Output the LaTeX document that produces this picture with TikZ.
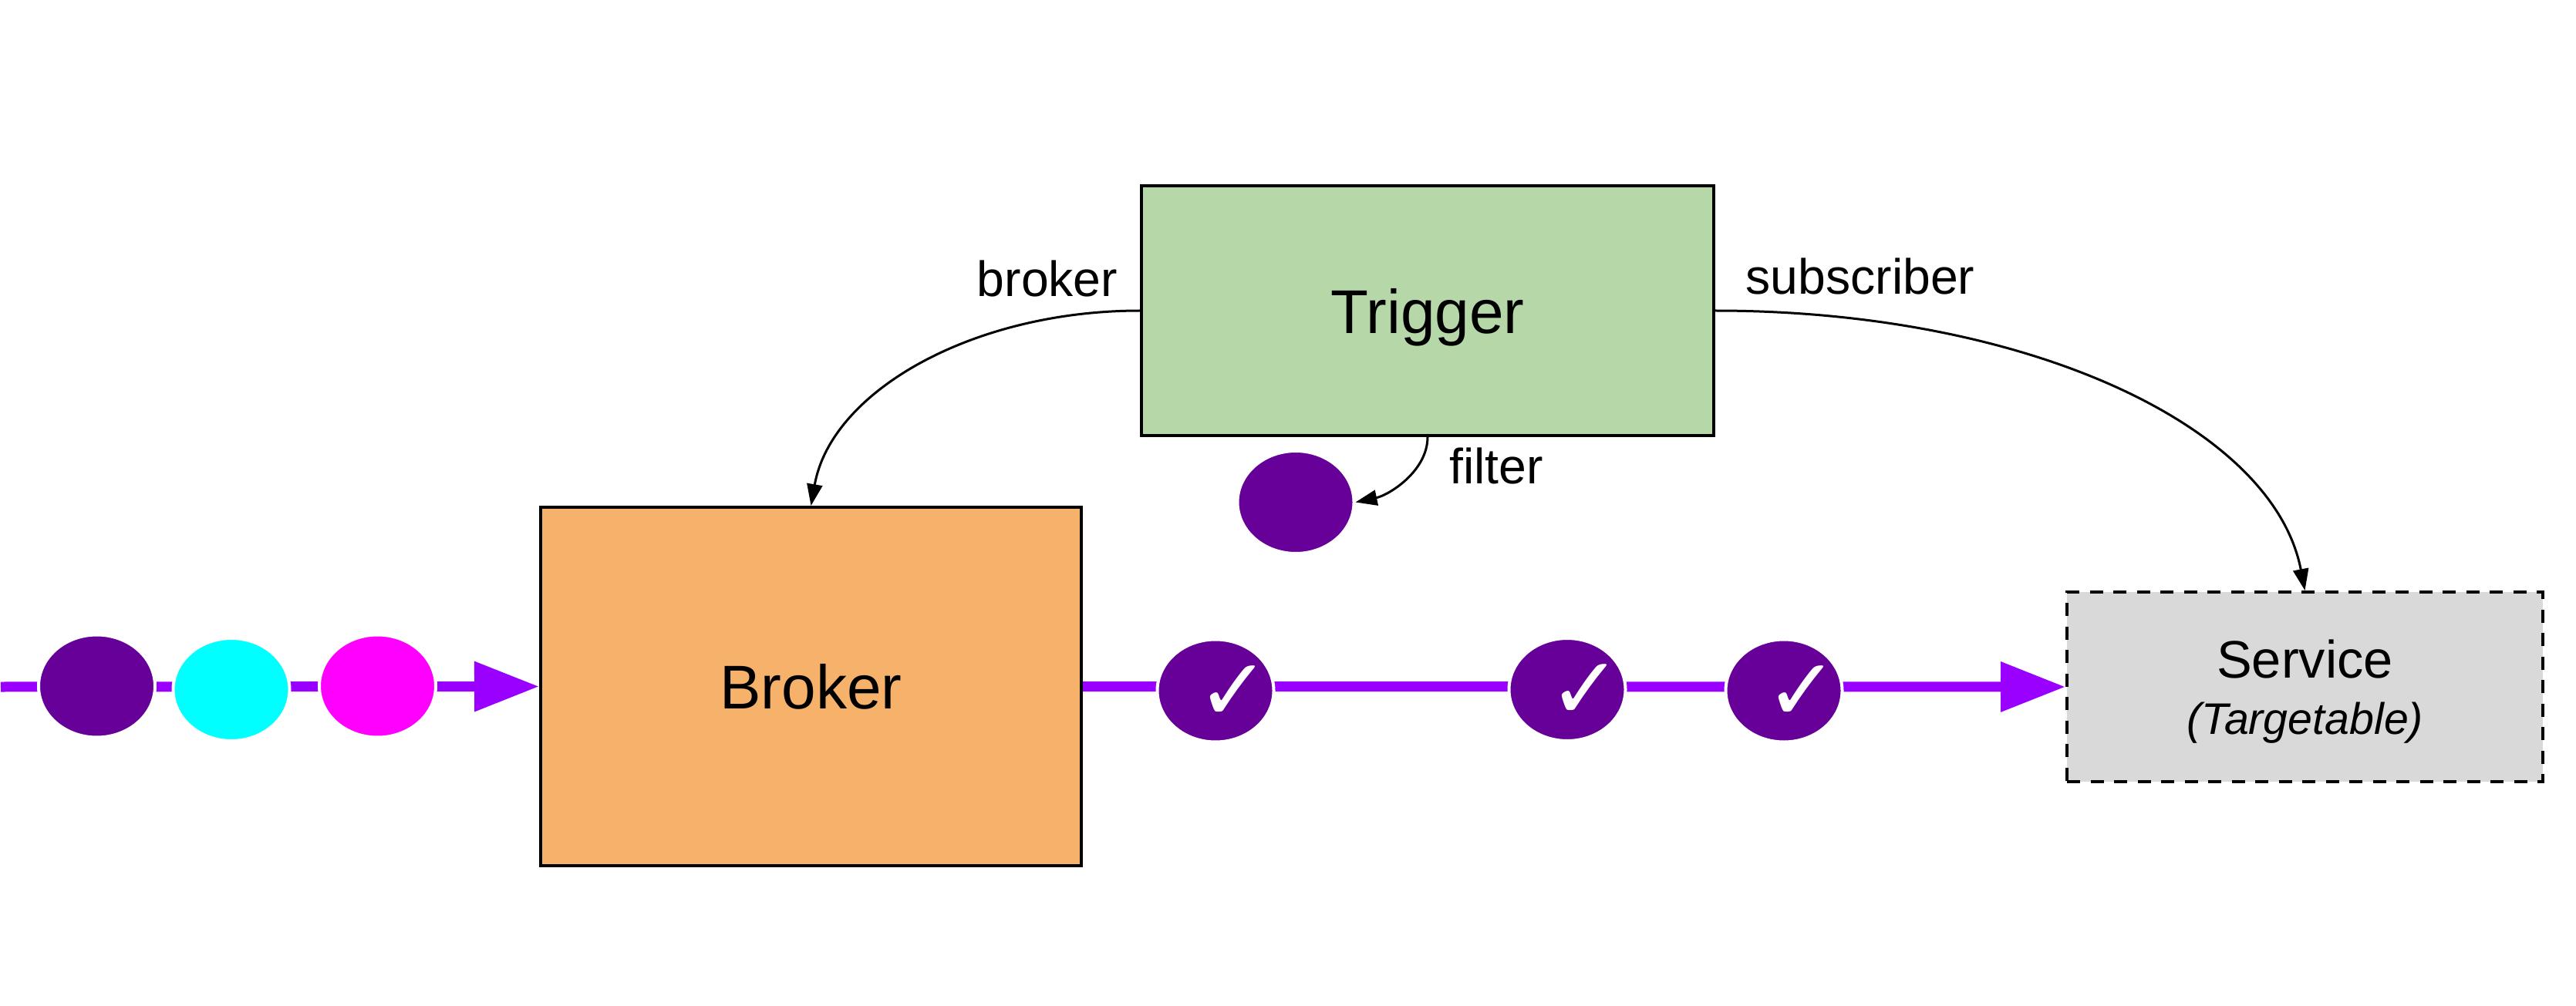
\documentclass[tikz,border=0pt]{standalone}
\usepackage{fontspec}
\setmainfont{Liberation Sans}
\newfontfamily\symfont{DejaVu Sans}
\usetikzlibrary{arrows.meta,shapes.geometric,positioning}
\definecolor{eventpurple}{rgb}{0.40, 0.0, 0.60}
\definecolor{eventcyan}{rgb}{0.0, 1.0, 1.0}
\definecolor{eventmagenta}{rgb}{1.0, 0.0, 1.0}
\definecolor{linepurple}{rgb}{0.60, 0.0, 1.0}
\definecolor{brokerorange}{rgb}{0.965, 0.698, 0.42}
\definecolor{triggergreen}{rgb}{0.714, 0.843, 0.659}
\definecolor{servicegray}{rgb}{0.851, 0.851, 0.851}
\tikzstyle{box} = [rectangle, draw=black, line width=0.04cm, text depth=0pt, align=center, font=\fontsize{22.8}{27}\selectfont]
\tikzstyle{ball} = [ellipse, draw=white, line width=0.04cm, inner sep=0pt, minimum width=1.51cm, minimum height=1.33cm]
\tikzstyle{tick} = [text=white, inner sep=0pt, font=\symfont\fontsize{32}{34}\selectfont]
\tikzstyle{word} = [anchor=base, inner sep=0pt, font=\fontsize{18.3}{22}\selectfont]
\tikzstyle{arrow} = [line width=0.03cm, -{Triangle[length=0.28cm,width=0.2cm]}]
\tikzstyle{flow} = [line width=0.13cm, linepurple, -{Triangle[length=0.84cm,width=0.62cm]}]
\begin{document}
\begin{tikzpicture}
\useasboundingbox (0,0) rectangle (33.4,13.04);
\node (broker) at (10.515,4.135) [box, fill=brokerorange, minimum width=7.01cm, minimum height=4.65cm] {Broker};
\node (trigger) at (18.51,9.01) [box, fill=triggergreen, minimum width=7.42cm, minimum height=3.235cm] {Trigger};
\node (service) at (29.885,4.13) [box, fill=servicegray, dash pattern=on 0.17cm off 0.135cm, minimum width=6.17cm, minimum height=2.46cm, text depth=-0.08cm, font=\fontsize{19.5}{20.6}\selectfont] {Service\\{\fontsize{16.3}{20}\selectfont\itshape (Targetable)}};
\coordinate (start) at (0.01,4.13);
\draw [flow] (start) -- (broker.west);
\draw [flow] (broker.east) -- (service.west);
\node (e1) at (1.255,4.14) [ball, fill=eventpurple] {};
\node (e2) at (3.00,4.095) [ball, fill=eventcyan] {};
\node (e3) at (4.895,4.14) [ball, fill=eventmagenta] {};
\node (e4) at (15.76,4.08) [ball, fill=eventpurple] {};
\node (e5) at (20.32,4.095) [ball, fill=eventpurple] {};
\node (e6) at (23.13,4.08) [ball, fill=eventpurple] {};
\node (c4) at (16.00,4.05) [tick] {✓};
\node (c5) at (20.56,4.065) [tick] {✓};
\node (c6) at (23.37,4.05) [tick] {✓};
\node (f) at (16.80,6.525) [ball, fill=eventpurple] {};
\draw [arrow] (trigger.west) to[out=180,in=80,out looseness=1.12,in looseness=0.78] (broker.north);
\draw [arrow] (trigger.east) to[out=0,in=101,out looseness=1.22,in looseness=0.66] (service.north);
\draw [arrow] (trigger.south) to[out=-90,in=12,looseness=0.9] (f.east);
\node (brokerlabel) at (13.58,9.19) [word] {broker};
\node (subscriberlabel) at (24.12,9.22) [word] {subscriber};
\node (filterlabel) at (19.40,6.77) [word] {filter};
\end{tikzpicture}
\end{document}
